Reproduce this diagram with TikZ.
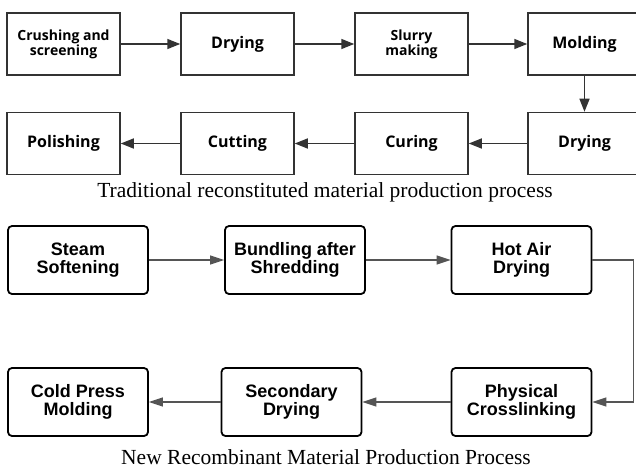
\documentclass[tikz,border=0pt]{standalone}
\usepackage{fontspec}
\setmainfont{Liberation Serif}
\newfontfamily\oldboxfont{Open Sans}
\newfontfamily\newboxfont{Liberation Sans}
\usetikzlibrary{arrows.meta}
\definecolor{oldline}{HTML}{333333}
\definecolor{newarrow}{HTML}{555555}
\tikzset{
  oldbox/.style={draw=oldline,line width=1.5pt,minimum width=113pt,minimum height=62pt,
    align=center,font=\oldboxfont\bfseries\fontsize{16}{16}\selectfont},
  oldsmall/.style={font=\oldboxfont\bfseries\fontsize{14}{13.5}\selectfont},
  newbox/.style={draw=black,line width=1.8pt,rounded corners=4pt,minimum width=140pt,
    minimum height=68pt,align=center,font=\newboxfont\bfseries\fontsize{18}{18}\selectfont},
  oldarrow/.style={draw=oldline,line width=1.5pt,-{Triangle[length=13pt,width=10pt]}},
  newarrow/.style={draw=newarrow,line width=1.2pt,-{Triangle[length=14pt,width=9pt]}},
  caption/.style={font=\fontsize{21.5}{21.5}\selectfont}
}
\begin{document}
\begin{tikzpicture}[x=1pt,y=-1pt]
\useasboundingbox (0,0) rectangle (636,468);

% traditional process
\foreach \n/\x/\s/\v in {0/63.5/oldsmall/{Crushing and\\screening},1/237.5/oldbox/Drying,
  2/411.5/oldsmall/{Slurry\\making},3/584.5/oldbox/Molding}
\node[oldbox,\s] (t\n) at (\x,44) {\v};
\foreach \n/\x/\v in {4/584.5/Drying,5/411.5/Curing,6/237.5/Cutting,7/63.5/Polishing}
\node[oldbox] (t\n) at (\x,143.5) {\v};
\foreach \a/\b in {0/1,1/2,2/3,4/5,5/6,6/7}
\draw[oldarrow] (t\a) -- (t\b);
\draw[oldarrow] (t3) -- (t4);
\node[caption] (cap1) at (325,192) {Traditional reconstituted material production process};

% new process
\foreach \n/\x/\v in {0/78/{Steam\\Softening},1/295/{Bundling after\\Shredding},2/521.5/{Hot Air\\Drying}}
\node[newbox] (b\n) at (\x,260) {\v};
\foreach \n/\x/\v in {3/521.5/{Physical\\Crosslinking},4/291.5/{Secondary\\Drying},5/78/{Cold Press\\Molding}}
\node[newbox] (b\n) at (\x,402) {\v};
\foreach \a/\b in {0/1,1/2,3/4,4/5}
\draw[newarrow] (b\a) -- (b\b);
\draw[newarrow] (b2.east) -- ++(41,0) |- (b3.east);
\node[caption] (cap2) at (326,457) {New Recombinant Material Production Process};

\end{tikzpicture}
\end{document}
